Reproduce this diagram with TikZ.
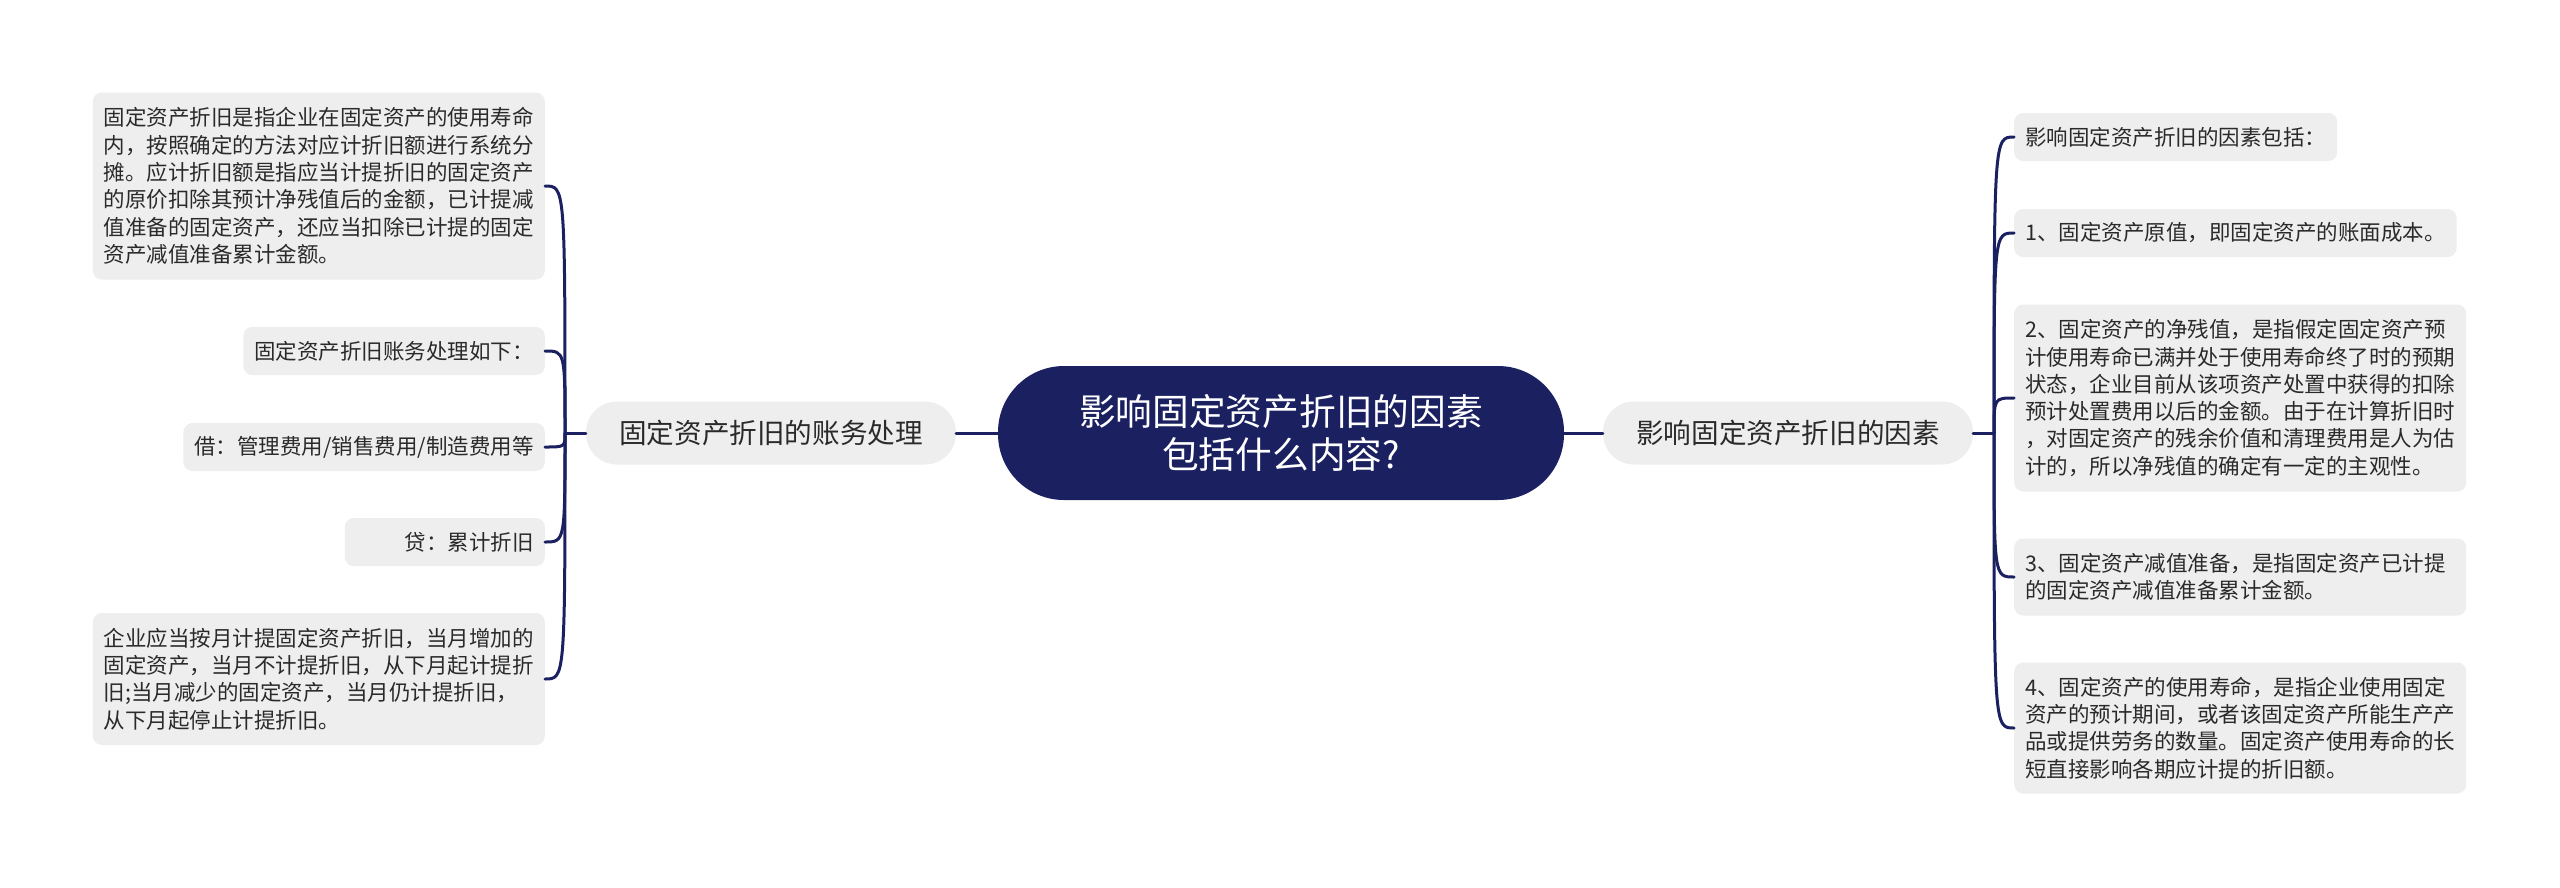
\documentclass[tikz,border=0pt]{standalone}
\usepackage{fontspec}
\setmainfont{Noto Sans CJK SC}

\definecolor{rootblue}{HTML}{1B2060}
\definecolor{boxgray}{HTML}{EEEEEE}
\definecolor{txtgray}{HTML}{2A2A2A}

\begin{document}
\begin{tikzpicture}[x=1pt, y=-1pt,
        link/.style={draw=rootblue, line width=3pt, line cap=round},
        root/.style={fill=rootblue, text=white, rounded corners=66pt, minimum width=566pt, minimum height=134pt, align=center, font=\fontsize{36.7}{43}\selectfont},
        branch/.style={fill=boxgray, text=txtgray, rounded corners=31pt, minimum height=63pt, minimum width=370pt, font=\fontsize{27.6}{33}\selectfont},
        leaf/.style={fill=boxgray, text=txtgray, rounded corners=9pt, inner xsep=11pt, inner ysep=0pt, minimum height=48pt, align=left, font=\fontsize{21.5}{27.3}\selectfont}]
        \useasboundingbox (0,0) rectangle (2560,887);
        \fill[white] (0,0) rectangle (2560,887);

        \node[root] (root) at (1281,433) {影响固定资产折旧的因素\\包括什么内容?};
        \node[branch] (lmid) at (771,433) {固定资产折旧的账务处理};
        \node[branch] (rmid) at (1788,433) {影响固定资产折旧的因素};

        \node[leaf, anchor=east, text width=430pt, minimum height=187pt] (l1) at (545,186) {固定资产折旧是指企业在固定资产的使用寿命\\内，按照确定的方法对应计折旧额进行系统分\\摊。应计折旧额是指应当计提折旧的固定资产\\的原价扣除其预计净残值后的金额，已计提减\\值准备的固定资产，还应当扣除已计提的固定\\资产减值准备累计金额。};
        \node[leaf, anchor=east] (l2) at (545,351) {固定资产折旧账务处理如下：};
        \node[leaf, anchor=east] (l3) at (545,447) {借：管理费用/销售费用/制造费用等};
        \node[leaf, anchor=east, text width=178pt, align=right] (l4) at (545,542) {贷：累计折旧};
        \node[leaf, anchor=east, text width=430pt, minimum height=132pt] (l5) at (545,679) {企业应当按月计提固定资产折旧，当月增加的\\固定资产，当月不计提折旧，从下月起计提折\\旧;当月减少的固定资产，当月仍计提折旧，\\从下月起停止计提折旧。};

        \node[leaf, anchor=west] (r1) at (2014,137) {影响固定资产折旧的因素包括：};
        \node[leaf, anchor=west] (r2) at (2014,233) {1、固定资产原值，即固定资产的账面成本。};
        \node[leaf, anchor=west, text width=430pt, minimum height=187pt] (r3) at (2014,398) {2、固定资产的净残值，是指假定固定资产预\\计使用寿命已满并处于使用寿命终了时的预期\\状态，企业目前从该项资产处置中获得的扣除\\预计处置费用以后的金额。由于在计算折旧时\\，对固定资产的残余价值和清理费用是人为估\\计的，所以净残值的确定有一定的主观性。};
        \node[leaf, anchor=west, text width=430pt, minimum height=77pt] (r4) at (2014,577) {3、固定资产减值准备，是指固定资产已计提\\的固定资产减值准备累计金额。};
        \node[leaf, anchor=west, text width=430pt, minimum height=131pt] (r5) at (2014,728) {4、固定资产的使用寿命，是指企业使用固定\\资产的预计期间，或者该固定资产所能生产产\\品或提供劳务的数量。固定资产使用寿命的长\\短直接影响各期应计提的折旧额。};

        \coordinate (ljoin) at (565,433);
        \coordinate (rjoin) at (1994,433);

        \draw[link] (root.west) -- (lmid.east);
        \draw[link] (root.east) -- (rmid.west);
        \draw[link] (lmid.west) -- (ljoin);
        \draw[link] (rmid.east) -- (rjoin);
        \foreach \n in {l1,l2,l3,l4,l5}
            \draw[link] (ljoin) .. controls (ljoin |- \n.east) and (ljoin |- \n.east) .. (\n.east);
        \foreach \n in {r1,r2,r3,r4,r5}
            \draw[link] (rjoin) .. controls (rjoin |- \n.west) and (rjoin |- \n.west) .. (\n.west);
    \end{tikzpicture}
\end{document}
